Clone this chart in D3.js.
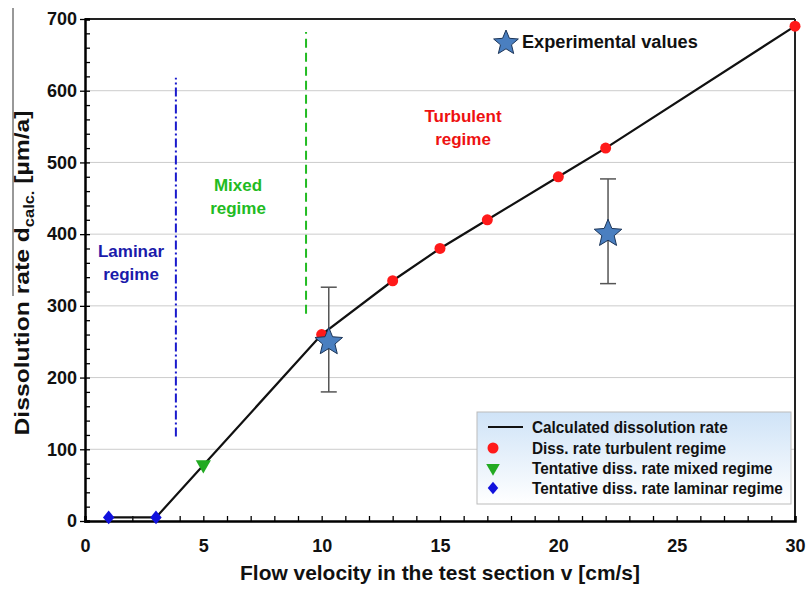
<!DOCTYPE html>
<html><head><meta charset="utf-8">
<script src="https://cdn.jsdelivr.net/npm/d3@7"></script>
<style>body{margin:0;background:#fff}svg{display:block;font-family:"Liberation Sans",Arial,sans-serif}</style>
</head><body><svg id="c" width="807" height="589"></svg>
<script>
// ---- data ----
const lineV = [1, 3, 10, 13, 15, 17, 20, 22, 30];
const lineD = [5, 5, 260, 335, 380, 420, 480, 520, 690];
const turbV = [10, 13, 15, 17, 20, 22, 30];
const turbD = [260, 335, 380, 420, 480, 520, 690];
const mixedV = [5];
const mixedD = [80];
const lamV = [1, 3];
const lamD = [5, 5];
const expV = [10.3, 22.1];
const expD = [251, 402];
const expLo = [180, 331];
const expHi = [326, 477];
const xTicks = [0, 5, 10, 15, 20, 25, 30];
const yTicks = [0, 100, 200, 300, 400, 500, 600, 700];
const lamLine = {v: 3.84, from: 118, to: 618};
const mixLine = {v: 9.34, from: 289, to: 682};
const legendLabels = ["Calculated dissolution rate", "Diss. rate turbulent regime", "Tentative diss. rate mixed regime", "Tentative diss. rate laminar regime"];

const svg = d3.select("#c");
const L = 85, R = 795, T = 19, B = 521;
const x = d3.scaleLinear().domain([0, 30]).range([L, R]);
const y = d3.scaleLinear().domain([0, 700]).range([B, T]);

const defs = svg.append("defs");
const g = defs.append("linearGradient").attr("id", "lg").attr("x1", 0).attr("y1", 0).attr("x2", 0).attr("y2", 1);
g.append("stop").attr("offset", "0%").attr("stop-color", "#cfe3f7");
g.append("stop").attr("offset", "100%").attr("stop-color", "#ffffff");

// text squeezed horizontally to a target width via transform
function squeezed(parent, txt, px, py, size, w, anchor) {
  const gg = parent.append("g");
  const t = gg.append("text").attr("x", 0).attr("y", 0).attr("font-size", size).attr("font-weight", "bold")
    .attr("fill", "#111").attr("text-anchor", anchor || "start").text(txt);
  const s = w / t.node().getComputedTextLength();
  gg.attr("transform", `translate(${px},${py}) scale(${s},1)`);
  return t;
}

// gridlines
svg.append("g").selectAll("line").data(yTicks.filter(d => d > 0)).join("line")
  .attr("x1", L).attr("x2", R).attr("y1", d => y(d)).attr("y2", d => y(d))
  .attr("stroke", "#cccccc").attr("stroke-width", 1);

// frame top/right
svg.append("line").attr("x1", L).attr("x2", R).attr("y1", T).attr("y2", T).attr("stroke", "#222").attr("stroke-width", 2);
svg.append("line").attr("x1", R).attr("x2", R).attr("y1", T).attr("y2", B).attr("stroke", "#222").attr("stroke-width", 2);

// axes
const xAxis = svg.append("g").attr("transform", `translate(0,${B})`)
  .call(d3.axisBottom(x).tickValues(d3.range(0, 31, 1)).tickSize(-5).tickFormat(""));
xAxis.select(".domain").attr("stroke-width", 2.5);
xAxis.selectAll(".tick line").attr("stroke-width", 1.3);
const xLab = svg.append("g").attr("transform", `translate(0,${B})`)
  .call(d3.axisBottom(x).tickValues(xTicks).tickSize(0).tickPadding(18));
xLab.select(".domain").remove();
xLab.selectAll("text").attr("font-size", 18).attr("font-weight", "bold").attr("fill", "#111").attr("font-family", "Liberation Sans, Arial");

const yAxis = svg.append("g").attr("transform", `translate(${L},0)`)
  .call(d3.axisLeft(y).tickValues(d3.range(0, 701, 20)).tickSize(-5).tickFormat(""));
yAxis.select(".domain").attr("stroke-width", 2.5);
yAxis.selectAll(".tick line").attr("stroke-width", 1.3);
const yLab = svg.append("g").attr("transform", `translate(${L},0)`)
  .call(d3.axisLeft(y).tickValues(yTicks).tickSize(5).tickPadding(3));
yLab.select(".domain").remove();
yLab.selectAll(".tick line").attr("stroke-width", 1.3);
yLab.selectAll("text").attr("font-size", 18).attr("font-weight", "bold").attr("fill", "#111").attr("font-family", "Liberation Sans, Arial");

// axis titles
squeezed(svg, "Flow velocity in the test section v [cm/s]", 440, 580, 21, 400, "middle");
const yt = svg.append("text").attr("text-anchor", "middle")
  .attr("font-size", 21).attr("font-weight", "bold").attr("fill", "#111");
yt.append("tspan").text("Dissolution rate d");
yt.append("tspan").attr("font-size", 14).attr("dy", 5).text("calc.");
yt.append("tspan").attr("dy", -5).text(" [µm/a]");
const ytw = yt.node().getComputedTextLength();
yt.attr("transform", `translate(29,273) rotate(-90) scale(${325 / ytw},1)`);
svg.append("line").attr("x1", 13).attr("x2", 13).attr("y1", 8).attr("y2", 296).attr("stroke", "#333").attr("stroke-width", 1);

// regime lines
svg.append("line").attr("x1", x(lamLine.v)).attr("x2", x(lamLine.v)).attr("y1", y(lamLine.from)).attr("y2", y(lamLine.to))
  .attr("stroke", "#1a1acc").attr("stroke-width", 2).attr("stroke-dasharray", "9,3,2,3");
svg.append("line").attr("x1", x(mixLine.v)).attr("x2", x(mixLine.v)).attr("y1", y(mixLine.from)).attr("y2", y(mixLine.to))
  .attr("stroke", "#22bb22").attr("stroke-width", 2).attr("stroke-dasharray", "9,5");

// regime labels
function label(lines, cx, cy, col) {
  const t = svg.append("text").attr("text-anchor", "middle").attr("font-size", 17).attr("font-weight", "bold").attr("fill", col);
  lines.forEach((s, i) => t.append("tspan").attr("x", cx).attr("y", cy + i * 23).text(s));
}
label(["Laminar", "regime"], 131, 257, "#1a1aaa");
label(["Mixed", "regime"], 238, 191, "#22bb22");
label(["Turbulent", "regime"], 463, 122, "#ee1111");

// calculated line
const line = d3.line().x(d => x(d[0])).y(d => y(d[1]));
svg.append("path").datum(lineV.map((v, i) => [v, lineD[i]])).attr("d", line)
  .attr("fill", "none").attr("stroke", "#111").attr("stroke-width", 2.2);

// points
svg.append("g").selectAll("circle").data(turbV.map((v, i) => [v, turbD[i]])).join("circle")
  .attr("cx", d => x(d[0])).attr("cy", d => y(d[1])).attr("r", 5.5).attr("fill", "#ff1a1a");
const tri = d3.symbol(d3.symbolTriangle).size(100);
svg.append("g").selectAll("path").data(mixedV.map((v, i) => [v, mixedD[i]])).join("path")
  .attr("d", tri).attr("transform", d => `translate(${x(d[0])},${y(d[1]) + 1}) rotate(180)`).attr("fill", "#22aa22");
const dia = d3.symbol(d3.symbolSquare).size(65);
svg.append("g").selectAll("path").data(lamV.map((v, i) => [v, lamD[i]])).join("path")
  .attr("d", dia).attr("transform", d => `translate(${x(d[0])},${y(d[1])}) scale(1,1.2) rotate(45)`).attr("fill", "#1111dd");

// experimental values with error bars
const eg = svg.append("g");
expV.forEach((v, i) => {
  const cx = x(v);
  eg.append("line").attr("x1", cx).attr("x2", cx).attr("y1", y(expLo[i])).attr("y2", y(expHi[i])).attr("stroke", "#555").attr("stroke-width", 1.5);
  [expLo[i], expHi[i]].forEach(e => eg.append("line").attr("x1", cx - 8).attr("x2", cx + 8).attr("y1", y(e)).attr("y2", y(e)).attr("stroke", "#555").attr("stroke-width", 1.5));
});
function starPath(r, ri) {
  const p = d3.path();
  for (let k = 0; k < 10; k++) {
    const a = -Math.PI / 2 + k * Math.PI / 5;
    const rr = k % 2 ? ri : r;
    k ? p.lineTo(rr * Math.cos(a), rr * Math.sin(a)) : p.moveTo(rr * Math.cos(a), rr * Math.sin(a));
  }
  p.closePath();
  return p.toString();
}
const star = starPath(14.5, 6.5);
eg.selectAll("path").data(expV.map((v, i) => [v, expD[i]])).join("path")
  .attr("d", star).attr("transform", d => `translate(${x(d[0])},${y(d[1]) + 1})`)
  .attr("fill", "#4a7fc0").attr("stroke", "#1c3558").attr("stroke-width", 1);

// experimental legend
svg.append("path").attr("d", starPath(13, 5.8)).attr("transform", "translate(506,43)").attr("fill", "#4a7fc0").attr("stroke", "#1c3558").attr("stroke-width", 1);
squeezed(svg, "Experimental values", 522, 48, 18, 176);

// legend box
const lg = svg.append("g");
lg.append("rect").attr("x", 477).attr("y", 412).attr("width", 314).attr("height", 92).attr("fill", "url(#lg)").attr("stroke", "#bbb").attr("stroke-width", 1);
const ly = [433, 454, 474, 494];
lg.append("line").attr("x1", 488).attr("x2", 523).attr("y1", 427).attr("y2", 427).attr("stroke", "#111").attr("stroke-width", 2.2);
lg.append("circle").attr("cx", 493).attr("cy", 448).attr("r", 5.5).attr("fill", "#ff1a1a");
lg.append("path").attr("d", d3.symbol(d3.symbolTriangle).size(80)).attr("transform", `translate(493,468) rotate(180)`).attr("fill", "#22aa22");
lg.append("path").attr("d", d3.symbol(d3.symbolSquare).size(55)).attr("transform", `translate(493,488) scale(1,1.2) rotate(45)`).attr("fill", "#1111dd");
// common horizontal squeeze so the longest entry spans 251px
const probe = lg.append("text").attr("font-size", 17).attr("font-weight", "bold").text(legendLabels[3]);
const f = 251 / probe.node().getComputedTextLength();
probe.remove();
legendLabels.forEach((s, i) => {
  const gg = lg.append("g").attr("transform", `translate(532,${ly[i]}) scale(${f},1)`);
  gg.append("text").attr("font-size", 17).attr("font-weight", "bold").attr("fill", "#111").text(s);
});
</script></body></html>
